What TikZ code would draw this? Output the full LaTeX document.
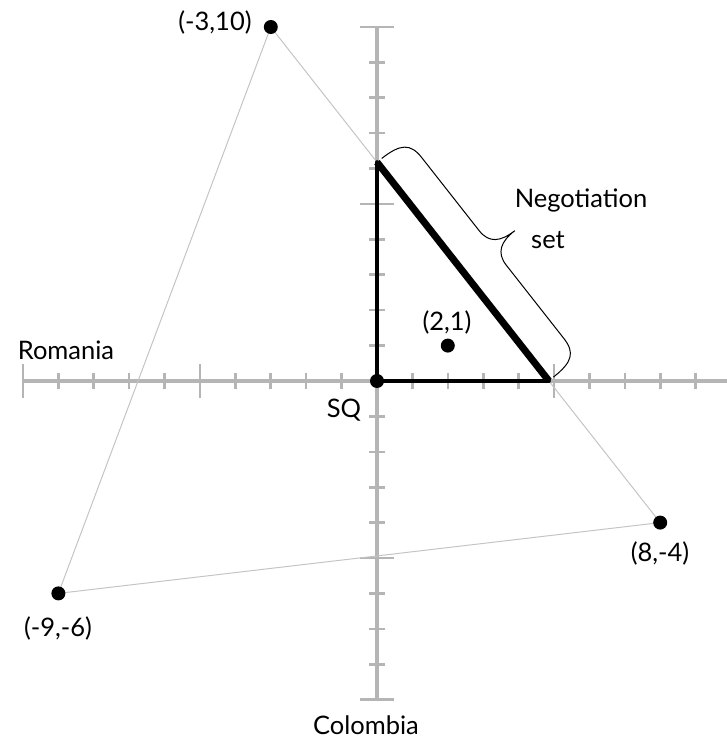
\documentclass[tikz,border=0pt]{standalone}
\usepackage{fontspec}
\setmainfont{Lato}
\definecolor{axisgray}{HTML}{B5B5B5}
\definecolor{linegray}{HTML}{C4C4C4}
\begin{document}
\begin{tikzpicture}[x=35.4pt,y=35.4pt,
  axisline/.style={draw=axisgray,line width=4pt},
  tickmark/.style={draw=axisgray,line width=2.6pt},
  dot/.style={circle,fill=black,inner sep=0pt,minimum size=14pt},
  lbl/.style={font=\fontsize{25.5}{28}\selectfont,inner sep=0pt},
  hull/.style={draw=linegray,line width=1pt},
  nset/.style={draw=black,line width=4pt},
  bracestyle/.style={draw=black,line width=1pt}]
\useasboundingbox (-377pt,-363pt) rectangle (350pt,381pt);
% axes
\draw[axisline] (-10,0) -- (350pt,0);
\draw[axisline] (0,-9) -- (0,10);
\foreach \i in {-9,-8,-7,-6,-4,-3,-2,-1,1,2,3,4,6,7,8,9}
  \draw[tickmark] (\i,-8pt) -- (\i,8pt);
\foreach \i in {-10,-5,5}
  \draw[tickmark] (\i,-17pt) -- (\i,17pt);
\foreach \i in {-8,-7,-6,-4,-3,-2,-1,1,2,3,4,6,7,8,9}
  \draw[tickmark] (-8pt,\i) -- (8pt,\i);
\foreach \i in {-9,-5,5,10}
  \draw[tickmark] (-17pt,\i) -- (17pt,\i);
% points
\coordinate (top) at (0,{10-3*14/11});
\coordinate (rgt) at ({-3+10*11/14},0);
\coordinate (ca) at (-3,10);
\coordinate (cb) at (8,-4);
\coordinate (cc) at (-9,-6);
% hull
\draw[hull] (ca) -- (cb) -- (cc) -- cycle;
\node[dot] (a) at (ca) {};
\node[dot] (b) at (cb) {};
\node[dot] (c) at (cc) {};
\node[dot] (p) at (2,1) {};
% negotiation set
\draw[nset,line cap=round] (top) -- (0,0) -- (rgt);
\draw[black,line width=7pt] (top) -- (rgt);
\node[dot] (sq) at (0,0) {};
% brace along the negotiation set
\begin{scope}[shift={(top)},rotate=-51.84,x=1pt,y=1pt]
\draw[bracestyle] (0,6) .. controls (0,30) and (6,38) .. (24,38)
  -- (117,38) .. controls (133,38) and (139,48) .. (139,66)
  .. controls (139,48) and (145,38) .. (161,38)
  -- (254,38) .. controls (272,38) and (278,30) .. (278,6);
\end{scope}
% labels
\node[lbl] (la) at (-162pt,359pt) {(-3,10)};
\node[lbl] (lp) at (70pt,59pt) {(2,1)};
\node[lbl] (lb) at (283pt,-172pt) {(8,-4)};
\node[lbl] (lc) at (-319pt,-247pt) {(-9,-6)};
\node[lbl] (lsq) at (-33pt,-29pt) {SQ};
\node[lbl] (rom) at (-311pt,31pt) {Romania};
\node[lbl] (col) at (-11pt,-344pt) {Colombia};
\node[lbl] (neg) at (204pt,181pt) {Negotiation};
\node[lbl] (set) at (171pt,141pt) {set};
\end{tikzpicture}
\end{document}
